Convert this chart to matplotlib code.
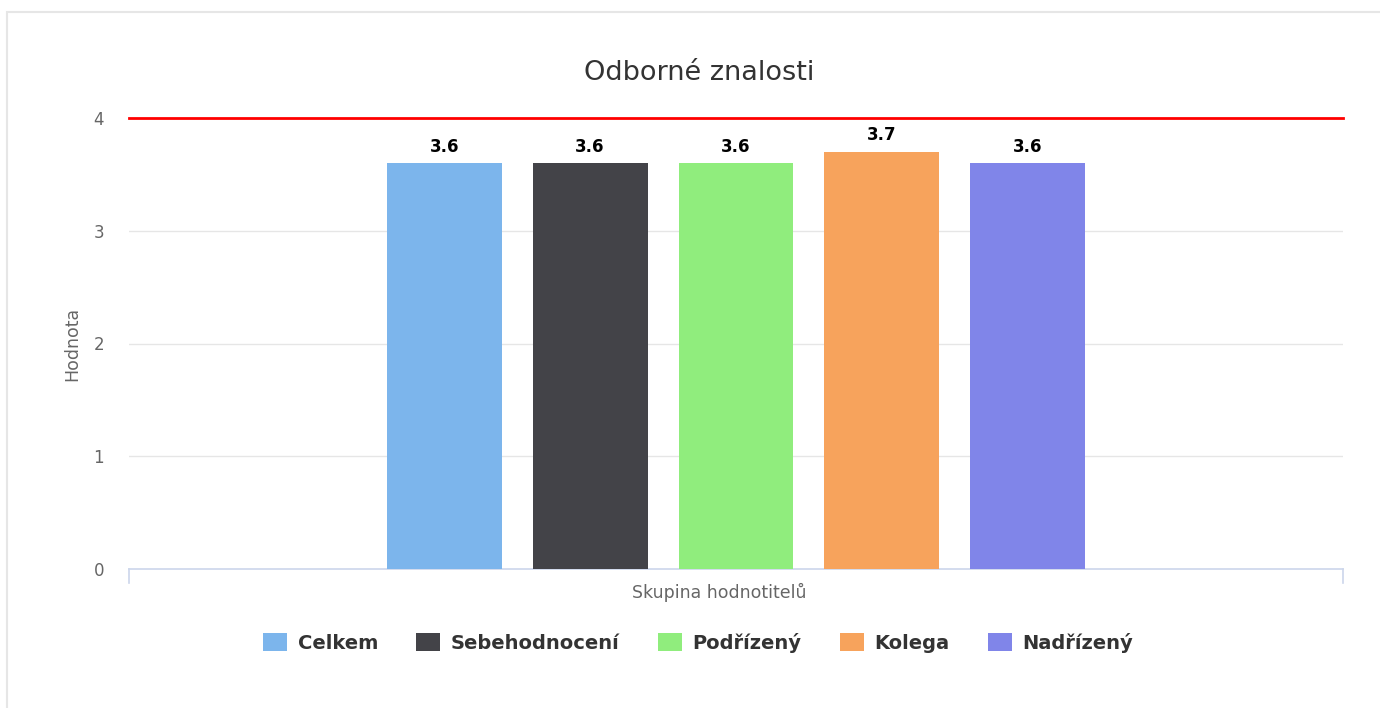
import numpy as np
import matplotlib.pyplot as plt
from matplotlib.patches import Rectangle, Patch

# Data
series = ["Celkem", "Sebehodnocení", "Podřízený", "Kolega", "Nadřízený"]
values = [3.6, 3.6, 3.6, 3.7, 3.6]
colors = ["#7cb5ec", "#434348", "#90ed7d", "#f7a35c", "#8085e9"]
y_ticks = [0, 1, 2, 3, 4]
threshold = 4

W, H = 1380, 708
fig = plt.figure(figsize=(W / 100, H / 100), dpi=100)
fig.patch.set_facecolor("white")

# chart border (light gray, runs off the right/bottom edge)
fig.add_artist(Rectangle((6.5 / W, -0.05), 1.1, 1 - 11.5 / H + 0.05,
                         transform=fig.transFigure, fill=False,
                         edgecolor="#e6e6e6", linewidth=1.5))

# plot area: x 129..1343, y 118..569 px
ax = fig.add_axes([129 / W, 1 - 569 / H, (1343 - 129) / W, (569 - 118) / H])
ax.set_facecolor("none")

n = len(series)
group_width = 0.601
slot = group_width / n
bar_w = 0.0947
offsets = (np.arange(n) - (n - 1) / 2) * slot

for off, val, col, name in zip(offsets, values, colors, series):
    ax.bar(off, val, width=bar_w, color=col, label=name, zorder=3)
    ax.text(off, val + 0.065, f"{val:.1f}", ha="center", va="bottom",
            fontsize=12, fontweight="bold", color="black", zorder=4)

ax.set_xlim(-0.5, 0.5)
ax.set_ylim(0, 4)
ax.set_yticks(y_ticks)
ax.set_xticks([])
for t in y_ticks[1:]:
    ax.axhline(t, color="#e6e6e6", linewidth=1, zorder=1)
ax.axhline(threshold, color="#ff0000", linewidth=2, zorder=5, clip_on=False)

for s in ["top", "right", "left"]:
    ax.spines[s].set_visible(False)
ax.spines["bottom"].set_color("#ccd6eb")
ax.spines["bottom"].set_linewidth(1.2)
# category edge ticks
for xe in (-0.5, 0.5):
    ax.plot([xe, xe], [0, -0.12], color="#ccd6eb", linewidth=1.2,
            clip_on=False, zorder=2)

ax.tick_params(axis="y", length=0, pad=18, labelsize=12, labelcolor="#666666")

fig.text(72 / W, 1 - 344 / H, "Hodnota", rotation=90, ha="center", va="center",
         fontsize=12.5, color="#666666")
fig.text(719 / W, 1 - 592 / H, "Skupina hodnotitelů", ha="center", va="center",
         fontsize=12.5, color="#666666")
fig.text(699 / W, 1 - 73 / H, "Odborné znalosti", ha="center", va="center",
         fontsize=19.5, color="#333333")

handles = [Patch(facecolor=c, edgecolor="none") for c in colors]
leg = fig.legend(handles, series, loc="center", bbox_to_anchor=(698 / W, 1 - 643 / H),
                 ncol=n, frameon=False, handlelength=1.25, handleheight=1.05,
                 handletextpad=0.55, columnspacing=1.95,
                 prop={"weight": "bold", "size": 14})
for t in leg.get_texts():
    t.set_color("#333333")

fig.savefig("out.png", dpi=100, facecolor="white")
